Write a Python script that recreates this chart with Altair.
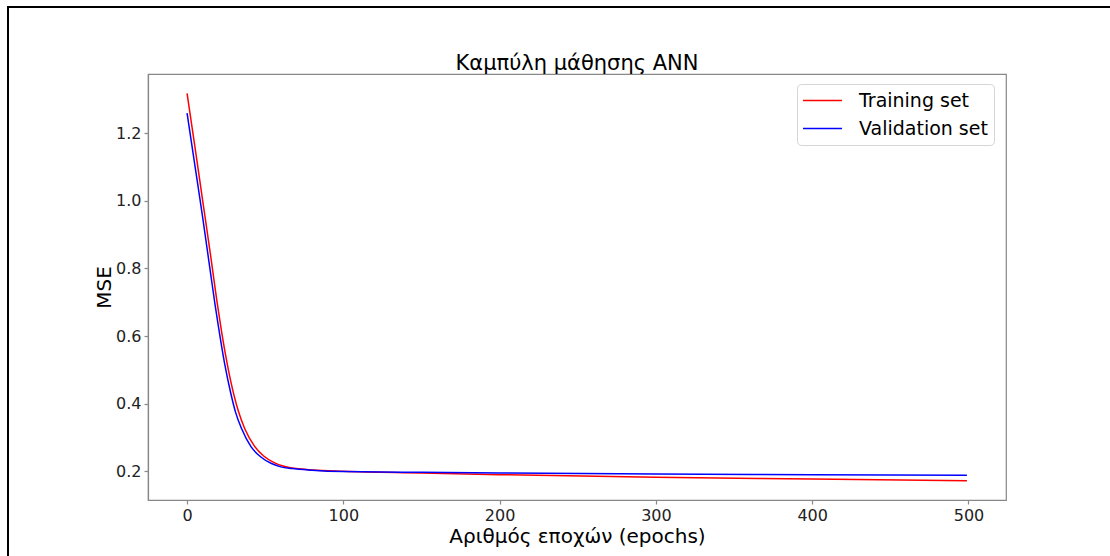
import altair as alt
import pandas as pd

train_epochs = [0, 5, 10, 15, 19, 22, 26, 30, 33, 37, 43, 49, 56, 62, 70, 80, 100, 150, 200, 300, 400, 499]
train_mse = [1.318, 1.160, 1.000, 0.840, 0.706, 0.615, 0.510, 0.425, 0.375, 0.325, 0.275, 0.245,
             0.225, 0.215, 0.208, 0.204, 0.200, 0.195, 0.190, 0.182, 0.177, 0.172]

val_epochs = [0, 5, 10, 15, 18, 20, 24, 28, 31, 35, 41, 47, 54, 60, 67, 80, 100, 150, 200, 300, 400, 499]
val_mse = [1.259, 1.105, 0.950, 0.787, 0.690, 0.630, 0.519, 0.430, 0.375, 0.325, 0.272, 0.243,
           0.223, 0.213, 0.208, 0.203, 0.199, 0.197, 0.195, 0.192, 0.190, 0.188]

series_names = ["Training set", "Validation set"]
series_colors = ["#ff0000", "#0000ff"]
x_ticks = [0, 100, 200, 300, 400, 500]
y_ticks = [0.2, 0.4, 0.6, 0.8, 1.0, 1.2]

rows = []
for i, (e, v) in enumerate(zip(train_epochs, train_mse)):
    rows.append({"epoch": e, "mse": v, "set": series_names[0], "order": i})
for i, (e, v) in enumerate(zip(val_epochs, val_mse)):
    rows.append({"epoch": e, "mse": v, "set": series_names[1], "order": i})
df = pd.DataFrame(rows)

FONT = "DejaVu Sans"

lines = alt.Chart(df).mark_line(strokeWidth=1.5, interpolate="monotone").encode(
    x=alt.X("epoch:Q",
            scale=alt.Scale(domain=[-25, 524], nice=False, zero=False),
            axis=alt.Axis(values=x_ticks, title="Αριθμός εποχών (epochs)", format="d")),
    y=alt.Y("mse:Q",
            scale=alt.Scale(domain=[0.115, 1.375], nice=False, zero=False),
            axis=alt.Axis(values=y_ticks, title="MSE", format=".1f")),
    color=alt.Color("set:N",
                    scale=alt.Scale(domain=series_names, range=series_colors),
                    legend=alt.Legend(title=None, orient="none", legendX=649, legendY=10,
                                      symbolType="M-2,0L2,0", symbolSize=380, symbolStrokeWidth=1.5,
                                      symbolOffset=9,
                                      labelFontSize=19, labelFont=FONT, labelColor="#000",
                                      padding=6, rowPadding=7, labelOffset=26,
                                      strokeColor="#d6d6d6", fillColor="#ffffff",
                                      cornerRadius=4)),
    order=alt.Order("order:Q"),
    detail="set:N",
)

frame_left = alt.Chart(df).mark_rule(color="#000", strokeWidth=2).encode(
    x=alt.value(-140), y=alt.value(-67), y2=alt.value(500))
frame_top = alt.Chart(df).mark_rule(color="#000", strokeWidth=2).encode(
    x=alt.value(-141), x2=alt.value(980), y=alt.value(-67))

chart = alt.layer(frame_left, frame_top, lines).properties(
    width=858, height=426,
    title=alt.TitleParams("Καμπύλη μάθησης ΑΝΝ", font=FONT, fontSize=21, fontWeight="normal",
                          color="#000", anchor="middle", offset=4, dy=72),
    autosize=alt.AutoSizeParams(type="none"),
    padding={"left": 148, "top": 74, "right": 104, "bottom": 56},
).configure_view(
    stroke="#888", strokeWidth=1.2
).configure_axis(
    grid=False, domainColor="#888", domainWidth=1.2, tickColor="#888", tickWidth=1.2, tickSize=4,
    labelFont=FONT, labelFontSize=16, labelColor="#222", labelPadding=3,
    titleFont=FONT, titleFontSize=20, titleFontWeight="normal", titleColor="#000",
).configure_axisX(
    titlePadding=3
).configure_axisY(
    titlePadding=1
)

chart.save("out.html", embed_options={"renderer": "svg", "actions": False})
